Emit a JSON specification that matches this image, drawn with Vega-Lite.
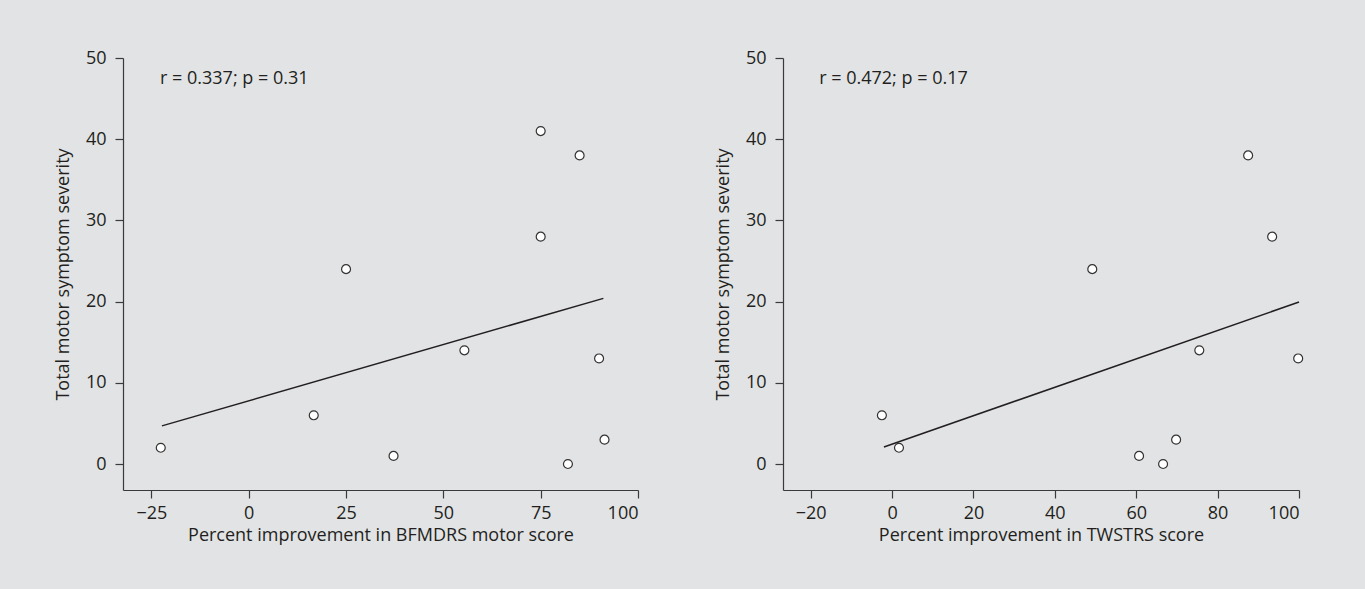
{
  "$schema": "https://vega.github.io/schema/vega-lite/v6.json",
  "background": "#e2e3e5",
  "padding": {"left": 54, "top": 49, "right": 59, "bottom": 47},
  "spacing": 75,
  "config": {
    "font": "Open Sans",
    "view": {"stroke": null},
    "axis": {
      "grid": false,
      "domainColor": "#3a3a3a",
      "domainWidth": 1.2,
      "tickColor": "#3a3a3a",
      "tickWidth": 1.2,
      "tickSize": 8,
      "labelFont": "Open Sans",
      "labelFontSize": 18,
      "labelColor": "#231f20",
      "titleFont": "Open Sans",
      "titleFontSize": 18,
      "titleFontWeight": "normal",
      "titleColor": "#231f20"
    },
    "axisX": {"labelPadding": 6, "titlePadding": 4},
    "axisY": {"labelPadding": 9, "titlePadding": 13}
  },
  "datasets": {
    "bfm": [
      {"x": -22.6, "y": 2},
      {"x": 16.7, "y": 6},
      {"x": 25, "y": 24},
      {"x": 37.2, "y": 1},
      {"x": 55.4, "y": 14},
      {"x": 75, "y": 41},
      {"x": 75, "y": 28},
      {"x": 85, "y": 38},
      {"x": 90, "y": 13},
      {"x": 82, "y": 0},
      {"x": 91.4, "y": 3}
    ],
    "bfmfit": [
      {"x": -22.3, "y": 4.7},
      {"x": 91.1, "y": 20.4}
    ],
    "tws": [
      {"x": -2.5, "y": 6},
      {"x": 1.7, "y": 2},
      {"x": 49.2, "y": 24},
      {"x": 60.7, "y": 1},
      {"x": 66.6, "y": 0},
      {"x": 69.8, "y": 3},
      {"x": 75.5, "y": 14},
      {"x": 87.5, "y": 38},
      {"x": 93.4, "y": 28},
      {"x": 99.8, "y": 13}
    ],
    "twsfit": [
      {"x": -2, "y": 2.1},
      {"x": 100, "y": 19.95}
    ],
    "notes": [
      {"panel": "bfm", "label": "r = 0.337; p = 0.31", "x": -22.8, "y": 47.4},
      {"panel": "tws", "label": "r = 0.472; p = 0.17", "x": -17.9, "y": 47.4}
    ]
  },
  "hconcat": [
    {
      "width": 515,
      "height": 432,
      "layer": [
        {
          "data": {"name": "bfmfit"},
          "mark": {"type": "line", "color": "#231f20", "strokeWidth": 1.5},
          "encoding": {
            "x": {"field": "x", "type": "quantitative", "scale": {"domain": [-32.3, 100], "nice": false, "zero": false},
              "axis": {"values": [-25, 0, 25, 50, 75, 100], "title": "Percent improvement in BFMDRS motor score"}},
            "y": {"field": "y", "type": "quantitative", "scale": {"domain": [-3.2, 50], "nice": false, "zero": false},
              "axis": {"values": [0, 10, 20, 30, 40, 50], "title": "Total motor symptom severity"}}
          }
        },
        {
          "data": {"name": "bfm"},
          "mark": {"type": "point", "shape": "circle", "filled": false, "fill": "white", "fillOpacity": 1, "stroke": "#333333", "strokeWidth": 1.2, "opacity": 1, "size": 80},
          "encoding": {
            "x": {"field": "x", "type": "quantitative"},
            "y": {"field": "y", "type": "quantitative"}
          }
        },
        {
          "data": {"name": "notes"},
          "transform": [{"filter": "datum.panel === 'bfm'"}],
          "mark": {"type": "text", "align": "left", "baseline": "middle", "fontSize": 18, "color": "#231f20"},
          "encoding": {
            "x": {"field": "x", "type": "quantitative"},
            "y": {"field": "y", "type": "quantitative"},
            "text": {"field": "label"}
          }
        }
      ]
    },
    {
      "width": 516,
      "height": 432,
      "layer": [
        {
          "data": {"name": "twsfit"},
          "mark": {"type": "line", "color": "#231f20", "strokeWidth": 1.5},
          "encoding": {
            "x": {"field": "x", "type": "quantitative", "scale": {"domain": [-26.8, 100], "nice": false, "zero": false},
              "axis": {"values": [-20, 0, 20, 40, 60, 80, 100], "title": "Percent improvement in TWSTRS score"}},
            "y": {"field": "y", "type": "quantitative", "scale": {"domain": [-3.2, 50], "nice": false, "zero": false},
              "axis": {"values": [0, 10, 20, 30, 40, 50], "title": "Total motor symptom severity"}}
          }
        },
        {
          "data": {"name": "tws"},
          "mark": {"type": "point", "shape": "circle", "filled": false, "fill": "white", "fillOpacity": 1, "stroke": "#333333", "strokeWidth": 1.2, "opacity": 1, "size": 80},
          "encoding": {
            "x": {"field": "x", "type": "quantitative"},
            "y": {"field": "y", "type": "quantitative"}
          }
        },
        {
          "data": {"name": "notes"},
          "transform": [{"filter": "datum.panel === 'tws'"}],
          "mark": {"type": "text", "align": "left", "baseline": "middle", "fontSize": 18, "color": "#231f20"},
          "encoding": {
            "x": {"field": "x", "type": "quantitative"},
            "y": {"field": "y", "type": "quantitative"},
            "text": {"field": "label"}
          }
        }
      ]
    }
  ]
}
